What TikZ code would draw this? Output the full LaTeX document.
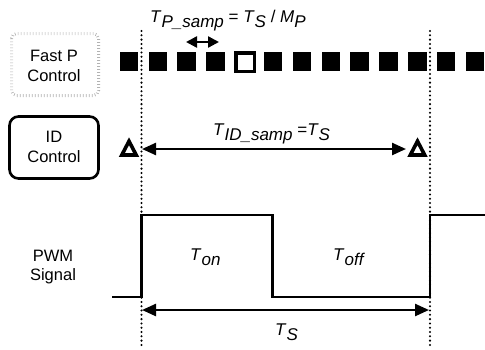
\documentclass[tikz,border=0pt]{standalone}
\usepackage{fontspec}
\setmainfont{Liberation Sans}
\usetikzlibrary{arrows.meta}
\newcommand{\tsub}[2]{\textit{#1}\raisebox{-5pt}{\textit{#2}}}
\begin{document}
\begin{tikzpicture}[x=1pt,y=-1pt,
  lbl/.style={font=\fontsize{17}{20}\selectfont, inner sep=0pt, anchor=base west},
  boxtxt/.style={font=\fontsize{16.5}{19.5}\selectfont, align=center, inner sep=0pt},
  sq/.style={fill=black, minimum size=18.5pt, inner sep=0pt},
  hollowsq/.style={draw=black, line width=3.6pt, minimum size=18.6pt, inner sep=0pt, fill=white},
  tickbox/.style={draw=gray!60, line width=3pt, dash pattern=on 0.7pt off 2.3pt, rounded corners=5pt},
  idbox/.style={draw=black, line width=2.6pt, rounded corners=9pt},
  dotline/.style={line width=2.3pt, dash pattern=on 0pt off 4.3pt, line cap=round},
  tri/.style={draw=black, line width=3.6pt, line join=miter},
  dimarrow/.style={line width=2.4pt, {Triangle[length=14pt,width=12pt]}-{Triangle[length=14pt,width=12pt]}},
  smallarrow/.style={line width=2.4pt, {Triangle[length=11pt,width=11pt]}-{Triangle[length=11pt,width=11pt]}},
  signal/.style={line width=2.6pt, line join=miter}
]
\useasboundingbox (0,0) rectangle (485,349);

% dotted guide lines
\coordinate (l1) at (141.5,31);
\coordinate (l2) at (141.5,349);
\coordinate (r1) at (430,31);
\coordinate (r2) at (430,349);
\draw[dotline] (l1) -- (l2);
\draw[dotline] (r1) -- (r2);

% Fast P control box
\draw[tickbox] (11.5,33.5) rectangle (98.5,95.5);
\node[boxtxt] (fastp) at (54,66) {Fast P\\Control};

% ID control box
\draw[idbox] (9.5,116.5) rectangle (98.5,178.5);
\node[boxtxt] (idc) at (54,147) {ID\\Control};

% PWM label
\node[boxtxt] (pwm) at (53,267) {PWM\\Signal};

% fast P sample squares
\foreach \i in {0,1,2,3,5,6,7,8,9,10,11,12} {
  \node[sq] (s\i) at ({129+28.83*\i},61.7) {};
}
\node[hollowsq] (s4) at (245,62) {};

% top label and arrow
\node[lbl] (tplbl) at (150,22) {\tsub{T}{P\_samp} = \tsub{T}{S} / \tsub{M}{P}};
\coordinate (pa) at (186,42);
\coordinate (pb) at (219,42);
\draw[smallarrow] (pa) -- (pb);

% ID sampling triangles
\draw[tri] (129,141.2) -- (121.8,155) -- (136.2,155) -- cycle;
\draw[tri] (417.5,141.2) -- (410.3,155) -- (424.7,155) -- cycle;

% ID arrow
\coordinate (ida) at (142,149);
\coordinate (idb) at (406,149);
\draw[dimarrow] (ida) -- (idb);
\node[lbl] (idlbl) at (213,135) {\tsub{T}{ID\_samp} =\tsub{T}{S}};

% PWM signal
\draw[signal] (112,297) -- (141.5,297) -- (141.5,215) -- (272.5,215) -- (272.5,297) -- (430,297) -- (430,215) -- (485,215);
\node[lbl] (ton) at (190,260) {\tsub{T}{on}};
\node[lbl] (toff) at (333,260) {\tsub{T}{off}};

% Ts arrow
\coordinate (ta) at (142,310);
\coordinate (tb) at (429,310);
\draw[dimarrow] (ta) -- (tb);
\node[lbl] (tslbl) at (275,335) {\tsub{T}{S}};
\end{tikzpicture}
\end{document}
